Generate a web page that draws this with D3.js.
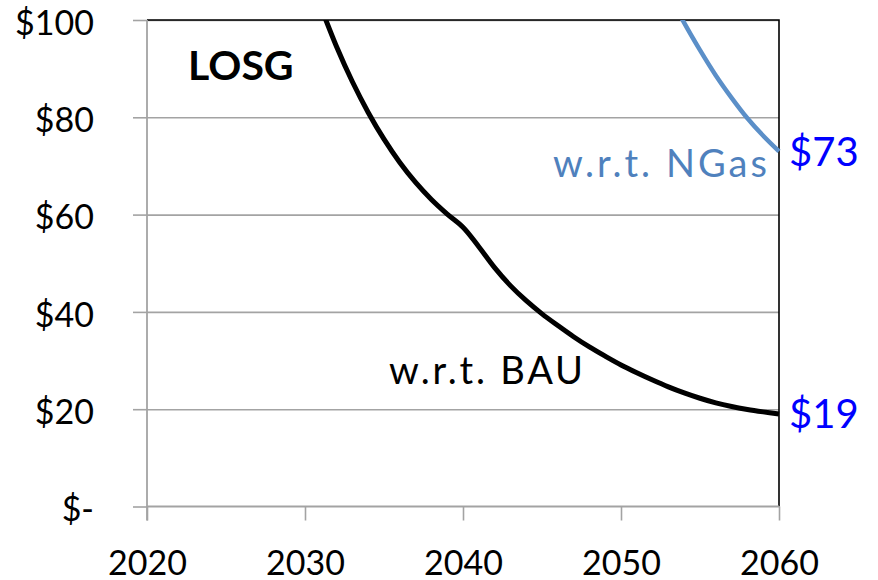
<!DOCTYPE html>
<html>
<head>
<meta charset="utf-8">
<script src="https://cdn.jsdelivr.net/npm/d3@7"></script>
<style>
  html, body { margin: 0; padding: 0; background: #ffffff; }
  svg { display: block; font-family: Lato, "Open Sans", sans-serif; }
</style>
</head>
<body>
<svg id="chart" width="878" height="580"></svg>
<script>
// Break-even price paths ($) for LOSG, relative to two baselines
const years = d3.range(2031, 2061);
const bauValues = [
  102.7, 94.5, 87.3, 81.0, 75.5, 70.7, 66.6, 63.1, 60.1, 57.4,
  53.4, 49.1, 45.4, 42.3, 39.6, 37.2, 34.9, 32.8, 30.9, 29.1,
  27.5, 26.0, 24.6, 23.35, 22.25, 21.3, 20.55, 19.95, 19.45, 19
];
const ngasYears = d3.range(2053, 2061);
const ngasValues = [105.6, 99.4, 93.8, 88.6, 84, 79.8, 76.2, 73];

const xTicks = [2020, 2030, 2040, 2050, 2060];
const yTicks = [0, 20, 40, 60, 80, 100];
const yTickLabels = ["$-", "$20", "$40", "$60", "$80", "$100"];

const svg = d3.select("#chart");
const plotLeft = 147, plotRight = 779, plotTop = 20, plotBottom = 506.5;

const x = d3.scaleLinear().domain([2020, 2060]).range([plotLeft, plotRight]);
const y = d3.scaleLinear().domain([0, 100]).range([plotBottom, plotTop]);

// horizontal gridlines
svg.append("g")
  .attr("transform", `translate(${plotLeft},0)`)
  .call(d3.axisLeft(y).tickValues(yTicks.slice(1)).tickSize(-(plotRight - plotLeft)).tickFormat(""))
  .call(g => g.select(".domain").remove())
  .call(g => g.selectAll("line").attr("stroke", "#a3a3a3").attr("stroke-width", 1.6));

// plot-area border (top and right)
svg.append("path")
  .attr("d", `M${plotLeft},${plotTop}H${plotRight}V${plotBottom}`)
  .attr("fill", "none")
  .attr("stroke", "#000")
  .attr("stroke-width", 1.6);

// y axis
const yAxis = svg.append("g")
  .attr("transform", `translate(${plotLeft},0)`)
  .call(d3.axisLeft(y).tickValues(yTicks).tickSize(14).tickSizeOuter(0)
    .tickFormat((d, i) => yTickLabels[i]));
yAxis.select(".domain").attr("d", `M0,${plotTop}V${plotBottom + 14}`);
yAxis.selectAll("line").attr("stroke", "#a3a3a3").attr("stroke-width", 1.6);
yAxis.selectAll(".domain").attr("stroke", "#a3a3a3").attr("stroke-width", 1.8);
yAxis.selectAll("text")
  .attr("x", -53)
  .attr("dy", "0.42em")
  .attr("font-size", 34)
  .attr("font-family", "Lato, sans-serif")
  .attr("fill", "#000");

// x axis
const xAxis = svg.append("g")
  .attr("transform", `translate(0,${plotBottom})`)
  .call(d3.axisBottom(x).tickValues(xTicks).tickSize(14).tickSizeOuter(0).tickFormat(d3.format("d")));
xAxis.select(".domain").attr("d", `M${plotLeft},0H${plotRight}`);
xAxis.selectAll("line").attr("stroke", "#a3a3a3").attr("stroke-width", 1.6);
xAxis.selectAll(".domain").attr("stroke", "#a3a3a3").attr("stroke-width", 1.8);
xAxis.selectAll("text")
  .attr("y", 68)
  .attr("dy", 0)
  .attr("font-size", 34)
  .attr("font-family", "Lato, sans-serif")
  .attr("fill", "#000");

// curves clipped to the plot area
svg.append("clipPath").attr("id", "plot-clip")
  .append("rect")
  .attr("x", plotLeft).attr("y", plotTop)
  .attr("width", plotRight - plotLeft + 3).attr("height", plotBottom - plotTop);

const line = d3.line()
  .x(d => x(d[0]))
  .y(d => y(d[1]))
  .curve(d3.curveCatmullRom.alpha(0.5));

const curves = svg.append("g").attr("clip-path", "url(#plot-clip)");

curves.append("path")
  .datum(years.map((yr, i) => [yr, bauValues[i]]))
  .attr("d", line)
  .attr("fill", "none")
  .attr("stroke", "#000")
  .attr("stroke-width", 5)
  .attr("stroke-linejoin", "round");

curves.append("path")
  .datum(ngasYears.map((yr, i) => [yr, ngasValues[i]]))
  .attr("d", line)
  .attr("fill", "none")
  .attr("stroke", "#5b8fc8")
  .attr("stroke-width", 4.5)
  .attr("stroke-linejoin", "round");

// annotations
svg.append("text")
  .attr("x", 188).attr("y", 80)
  .attr("font-size", 41)
  .attr("font-weight", "bold")
  .attr("font-family", "Lato, sans-serif")
  .attr("fill", "#000")
  .text("LOSG");

svg.append("text")
  .attr("x", 389).attr("y", 384)
  .attr("font-size", 38)
  .attr("textLength", 194)
  .attr("lengthAdjust", "spacing")
  .attr("font-family", "Lato, sans-serif")
  .attr("fill", "#000")
  .text("w.r.t. BAU");

svg.append("text")
  .attr("x", 553).attr("y", 177)
  .attr("font-size", 38)
  .attr("textLength", 214)
  .attr("lengthAdjust", "spacing")
  .attr("font-family", "Lato, sans-serif")
  .attr("fill", "#4f81bd")
  .text("w.r.t. NGas");

// end-of-line value labels
const endYear = 2060;
const valueLabel = d => "$" + d3.format("d")(d);
[ngasValues[ngasValues.length - 1], bauValues[bauValues.length - 1]].forEach(v => {
  svg.append("text")
    .attr("x", x(endYear) + 10)
    .attr("y", y(v))
    .attr("dy", "0.36em")
    .attr("font-size", 40)
    .attr("font-family", "Lato, sans-serif")
    .attr("fill", "#0000ff")
    .text(valueLabel(v));
});
</script>
</body>
</html>
